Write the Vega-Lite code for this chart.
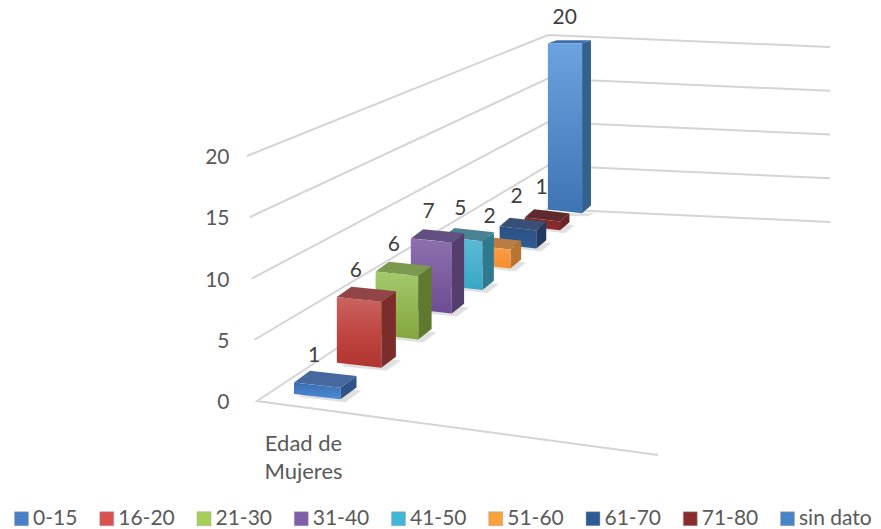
{
"$schema":"https://vega.github.io/schema/vega-lite/v6.json",
"width":881,"height":529,"padding":0,"autosize":{"type":"none"},
"background":"white",
"config":{"view":{"stroke":null},"font":"Lato"},
"datasets":{
"barras":[
{"categoria":"sin dato","valor":20,"orden":8},
{"categoria":"71-80","valor":1,"orden":7},
{"categoria":"61-70","valor":2,"orden":6},
{"categoria":"51-60","valor":2,"orden":5},
{"categoria":"41-50","valor":5,"orden":4},
{"categoria":"31-40","valor":7,"orden":3},
{"categoria":"21-30","valor":6,"orden":2},
{"categoria":"16-20","valor":6,"orden":1},
{"categoria":"0-15","valor":1,"orden":0}
],
"rejilla":[{"valor":0},{"valor":5},{"valor":10},{"valor":15},{"valor":20}]
},
"data":{"name":"barras"},
"transform":[
{"calculate":"['lado','techo','frente']","as":"caras"},
{"flatten":["caras"],"as":["cara"]},
{"calculate":"datum.cara==='techo'?[0,1,2,3]:[0,1]","as":"vertices"},
{"flatten":["vertices"],"as":["vertice"]},
{"calculate":"datum.orden/(1+0.053*datum.orden)","as":"s"},
{"calculate":"340.5+43*datum.s","as":"frx"},
{"calculate":"399.3-33.1*datum.s","as":"fry"},
{"calculate":"46.5/(1+0.045*datum.orden)","as":"w"},
{"calculate":"16/(1+0.1*datum.orden)","as":"dx"},
{"calculate":"-11.8/(1+0.065*datum.orden)","as":"dy"},
{"calculate":"datum.valor*11.5/(1+0.044*datum.orden)","as":"h"},
{"calculate":"(datum.valor/20)*(datum.valor/20)","as":"q"},
{"calculate":"datum.dy*(1-0.6*datum.q)","as":"dyT"},
{"calculate":"datum.w*0.115*(1-datum.q)","as":"mw"},
{"calculate":"datum.frx-datum.w","as":"flx"},
{"calculate":"datum.fry-datum.w*0.115","as":"fly"},
{"calculate":"datum.fry-datum.h","as":"frT"},
{"calculate":"datum.frT-datum.mw","as":"flT"},
{"calculate":"datum.cara==='frente'?[datum.flx,datum.frx][datum.vertice]:datum.cara==='lado'?[datum.frx,datum.frx+datum.dx][datum.vertice]:[datum.flx,datum.flx+datum.dx,datum.frx,datum.frx+datum.dx][datum.vertice]","as":"px"},
{"calculate":"datum.cara==='frente'?[datum.flT,datum.frT][datum.vertice]:datum.cara==='lado'?[datum.frT,datum.frT+datum.dyT][datum.vertice]:[datum.flT,datum.flT+datum.dyT,datum.flT+datum.dyT+(datum.mw/datum.w)*(datum.w-datum.dx),datum.frT+datum.dyT][datum.vertice]","as":"pSup"},
{"calculate":"datum.cara==='frente'?[datum.fly,datum.fry][datum.vertice]:datum.cara==='lado'?[datum.fry,datum.fry+datum.dy][datum.vertice]:[datum.flT,datum.flT+(datum.mw/datum.w)*datum.dx,datum.frT,datum.frT+datum.dyT][datum.vertice]","as":"pInf"},
{"calculate":"(401-datum.pSup)/12.25","as":"nivelSup"},
{"calculate":"(401-datum.pInf)/12.25","as":"nivelInf"},
{"calculate":"datum.categoria+'|'+datum.cara","as":"clave"}
],
"layer":[
{
"data":{"name":"rejilla"},
"transform":[
{"calculate":"datum.valor===0?['frente','izq','fondo','der']:['izq','fondo','der']","as":"puntos"},
{"flatten":["puntos"],"as":["punto"]},
{"calculate":"indexof(['frente','izq','fondo','der'],datum.punto)","as":"paso"},
{"calculate":"datum.punto==='frente'?658:datum.punto==='izq'?257-0.5*datum.valor:datum.punto==='fondo'?548:830","as":"px"},
{"calculate":"datum.punto==='frente'?455:datum.punto==='izq'?401-12.25*datum.valor:datum.punto==='fondo'?209-8.7*datum.valor:222-8.75*datum.valor","as":"py"},
{"calculate":"(401-datum.py)/12.25","as":"nivel"}
],
"mark":{"type":"line","color":"#D4D4D4","strokeWidth":2,"strokeJoin":"miter"},
"encoding":{
"x":{"field":"px","type":"quantitative","scale":{"domain":[0,881],"nice":false,"zero":false},
"axis":{"title":["Edad de","Mujeres"],"titleX":303,"titleY":-86,"titleFont":"Lato","titleFontSize":22,"titleFontWeight":"normal","titleColor":"#595959","titleLineHeight":28,"titleAlign":"center","titleBaseline":"middle","labels":false,"ticks":false,"domain":false,"grid":false}},
"y":{"field":"nivel","type":"quantitative","scale":{"domain":[-10.449,32.735],"nice":false,"zero":false},
"axis":{"values":[0,5,10,15,20],"title":null,"orient":"left","offset":-229,"labelFont":"Lato","labelFontSize":21,"labelColor":"#595959","labelPadding":0,"labelOffset":1.5,"labelAlign":"right","labelBaseline":"middle","domain":false,"ticks":false,"grid":false}},
"detail":{"field":"valor"},
"order":{"field":"paso","type":"quantitative"}
}
},
{
"transform":[{"filter":"datum.cara==='techo'"},
{"calculate":"datum.px+5","as":"sx"},
{"calculate":"(401-(datum.pSup+datum.h+3))/12.25","as":"sSup"},
{"calculate":"(401-(datum.pInf+datum.h+3))/12.25","as":"sInf"}],
"mark":{"type":"area","color":"#000000","opacity":0.12,"interpolate":"linear"},
"encoding":{
"x":{"field":"sx","type":"quantitative","scale":{"domain":[0,881],"nice":false,"zero":false}},
"y":{"field":"sSup","type":"quantitative","stack":null,"scale":{"domain":[-10.449,32.735],"nice":false,"zero":false}},
"y2":{"field":"sInf"},
"detail":{"field":"clave"}
}
},
{
"mark":{"type":"area","interpolate":"linear"},
"encoding":{
"x":{"field":"px","type":"quantitative","scale":{"domain":[0,881],"nice":false,"zero":false}},
"y":{"field":"nivelSup","type":"quantitative","stack":null,"scale":{"domain":[-10.449,32.735],"nice":false,"zero":false}},
"y2":{"field":"nivelInf"},
"detail":{"field":"clave"},
"color":{
"condition":[
{"test":"datum.clave==='0-15|frente'","value":{"gradient":"linear","x1":0,"y1":0,"x2":0,"y2":1,"stops":[{"offset":0,"color":"#3A6DB0"},{"offset":1,"color":"#4D8AD8"}]}},
{"test":"datum.clave==='16-20|frente'","value":{"gradient":"linear","x1":0,"y1":0,"x2":0,"y2":1,"stops":[{"offset":0,"color":"#C96462"},{"offset":0.5,"color":"#C04642"},{"offset":1,"color":"#B03430"}]}},
{"test":"datum.clave==='21-30|frente'","value":{"gradient":"linear","x1":0,"y1":0,"x2":0,"y2":1,"stops":[{"offset":0,"color":"#A3C96C"},{"offset":1,"color":"#84A53E"}]}},
{"test":"datum.clave==='31-40|frente'","value":{"gradient":"linear","x1":0,"y1":0,"x2":0,"y2":1,"stops":[{"offset":0,"color":"#8F70AE"},{"offset":1,"color":"#6C4C92"}]}},
{"test":"datum.clave==='41-50|frente'","value":{"gradient":"linear","x1":0,"y1":0,"x2":0,"y2":1,"stops":[{"offset":0,"color":"#5DBBD6"},{"offset":1,"color":"#39A6C6"}]}},
{"test":"datum.clave==='51-60|frente'","value":{"gradient":"linear","x1":0,"y1":0,"x2":0,"y2":1,"stops":[{"offset":0,"color":"#FAA04B"},{"offset":1,"color":"#F58D2E"}]}},
{"test":"datum.clave==='61-70|frente'","value":{"gradient":"linear","x1":0,"y1":0,"x2":0,"y2":1,"stops":[{"offset":0,"color":"#2C5082"},{"offset":1,"color":"#2E5C96"}]}},
{"test":"datum.clave==='71-80|frente'","value":{"gradient":"linear","x1":0,"y1":0,"x2":0,"y2":1,"stops":[{"offset":0,"color":"#7C2A2A"},{"offset":1,"color":"#8E2B2B"}]}},
{"test":"datum.clave==='sin dato|frente'","value":{"gradient":"linear","x1":0,"y1":0,"x2":0,"y2":1,"stops":[{"offset":0,"color":"#6CA2E0"},{"offset":1,"color":"#3F74B4"}]}}
],
"field":"clave","type":"nominal","legend":null,
"scale":{
"domain":["0-15|lado","0-15|techo","16-20|lado","16-20|techo","21-30|lado","21-30|techo","31-40|lado","31-40|techo","41-50|lado","41-50|techo","51-60|lado","51-60|techo","61-70|lado","61-70|techo","71-80|lado","71-80|techo","sin dato|lado","sin dato|techo"],
"range":["#2F5488","#46689E","#7C2C2B","#924546","#5F7A2F","#7C9A4F","#543E6E","#644F82","#2F7A8F","#4A8396","#B87430","#B97C40","#23395F","#3A4F75","#6B2423","#5E2A2D","#34608F","#3F6FA8"]
}
}
}
},
{
"transform":[{"filter":"datum.cara==='techo'&&datum.vertice===0"},
{"calculate":"datum.flx+datum.dx+4+0.5*datum.orden","as":"tx"},
{"calculate":"(401-(datum.flT+datum.dyT-15-0.9*datum.orden))/12.25","as":"ty"}],
"mark":{"type":"text","font":"Lato","fontSize":21,"color":"#404040","align":"center","baseline":"middle"},
"encoding":{
"x":{"field":"tx","type":"quantitative","scale":{"domain":[0,881],"nice":false,"zero":false}},
"y":{"field":"ty","type":"quantitative","scale":{"domain":[-10.449,32.735],"nice":false,"zero":false}},
"text":{"field":"valor","type":"quantitative"}
}
},
{
"transform":[{"filter":"datum.cara==='frente'&&datum.vertice===0"}],
"mark":{"type":"point","shape":"square","filled":true,"size":0},
"encoding":{
"x":{"field":"px","type":"quantitative","scale":{"domain":[0,881],"nice":false,"zero":false}},
"y":{"field":"nivelInf","type":"quantitative","scale":{"domain":[-10.449,32.735],"nice":false,"zero":false}},
"color":{"field":"categoria","type":"nominal",
"scale":{"domain":["0-15","16-20","21-30","31-40","41-50","51-60","61-70","71-80","sin dato"],"range":["#4A80C8","#D9504C","#A6CE5A","#7F5FA9","#3FB5D8","#F9A13A","#2F5B94","#8B2C2C","#4A84C8"]},
"legend":{"title":null,"orient":"none","legendX":11,"legendY":508,"direction":"horizontal","columns":9,"gridAlign":"each","columnPadding":18.25,"symbolType":"square","symbolSize":196,"symbolOpacity":1,"symbolStrokeColor":"#A6A6A6","symbolStrokeWidth":0.5,"labelOffset":1,"labelFont":"Lato","labelFontSize":21,"labelColor":"#595959","labelLimit":0,"padding":0}
}
}
}
],
"resolve":{"scale":{"color":"independent"}}
}
